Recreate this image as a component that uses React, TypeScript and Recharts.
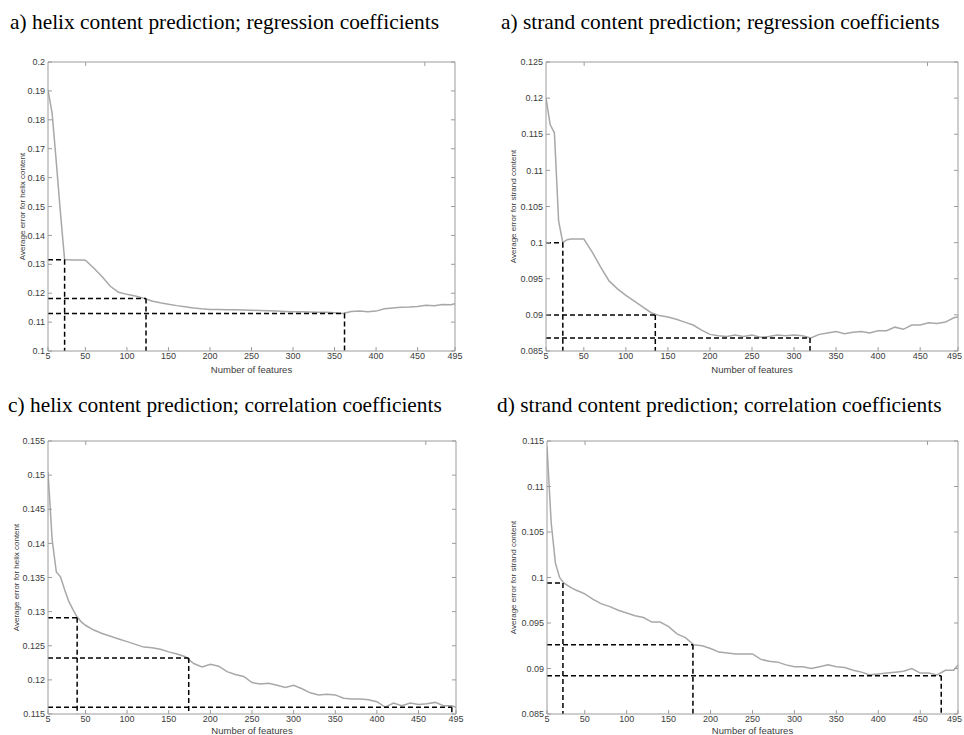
import { LineChart, Line, XAxis, YAxis, ReferenceLine } from 'recharts'

// number of features (x) shared by all four panels
const featureCounts = [
  5, 10, 15, 20, 25, 30, 35, 40, 45, 50, 60, 70, 80, 90, 100, 110, 120, 130, 140, 150, 160, 170,
  180, 190, 200, 210, 220, 230, 240, 250, 260, 270, 280, 290, 300, 310, 320, 330, 340, 350, 360,
  370, 380, 390, 400, 410, 420, 430, 440, 450, 460, 470, 480, 490, 495,
]
const xTicks = [5, 50, 100, 150, 200, 250, 300, 350, 400, 450, 495]

const helixRegression = [
  0.1903, 0.1822, 0.1653, 0.1478, 0.1316, 0.1316, 0.1315, 0.1315, 0.1315, 0.1314,
  0.1287, 0.1258, 0.1224, 0.1203, 0.1196, 0.119, 0.1183, 0.1173, 0.1167, 0.1162,
  0.1157, 0.1153, 0.1149, 0.1146, 0.1144, 0.1144, 0.1143, 0.1143, 0.1142, 0.1141,
  0.114, 0.1139, 0.1138, 0.1137, 0.1136, 0.1136, 0.1135, 0.1134, 0.1134, 0.1132,
  0.113, 0.1137, 0.1138, 0.1136, 0.1138, 0.1146, 0.1149, 0.1151, 0.1152, 0.1154,
  0.1158, 0.1157, 0.1161, 0.116, 0.1164,
]
const strandRegression = [
  0.12, 0.1163, 0.1152, 0.103, 0.1, 0.1004, 0.1005, 0.1005, 0.1005, 0.1005,
  0.0987, 0.0966, 0.0947, 0.0936, 0.0927, 0.0919, 0.0911, 0.0903, 0.0899, 0.0897,
  0.0894, 0.089, 0.0886, 0.0879, 0.0873, 0.0871, 0.087, 0.0872, 0.087, 0.0872,
  0.0869, 0.087, 0.0872, 0.0871, 0.0872, 0.0871, 0.0868, 0.0873, 0.0875, 0.0877,
  0.0874, 0.0876, 0.0877, 0.0875, 0.0878, 0.0878, 0.0883, 0.088, 0.0886, 0.0886,
  0.0889, 0.0888, 0.089, 0.0896, 0.0897,
]
const helixCorrelation = [
  0.1505, 0.1405, 0.1358, 0.1351, 0.1332, 0.1315, 0.1303, 0.1292, 0.1285, 0.128,
  0.1273, 0.1268, 0.1264, 0.126, 0.1256, 0.1252, 0.1248, 0.1247, 0.1245, 0.1241,
  0.1238, 0.1234, 0.1224, 0.1219, 0.1223, 0.122, 0.1212, 0.1208, 0.1205, 0.1196,
  0.1194, 0.1195, 0.1192, 0.1189, 0.1192, 0.1187, 0.1181, 0.1178, 0.1179, 0.1178,
  0.1173, 0.1172, 0.1172, 0.1171, 0.1168, 0.116, 0.1166, 0.1162, 0.1166, 0.1164,
  0.1165, 0.1167, 0.1162, 0.1162, 0.116,
]
const strandCorrelation = [
  0.1144, 0.106, 0.1016, 0.1, 0.0994, 0.0991, 0.0988, 0.0986, 0.0984, 0.0982,
  0.0976, 0.0971, 0.0968, 0.0964, 0.0961, 0.0958, 0.0956, 0.0951, 0.0951, 0.0946,
  0.0938, 0.0934, 0.0926, 0.0925, 0.0922, 0.0918, 0.0917, 0.0916, 0.0916, 0.0916,
  0.091, 0.0908, 0.0907, 0.0904, 0.0902, 0.0902, 0.09, 0.0902, 0.0904, 0.0902,
  0.0901, 0.0898, 0.0896, 0.0893, 0.0894, 0.0895, 0.0896, 0.0897, 0.09, 0.0895,
  0.0895, 0.0893, 0.0898, 0.0898, 0.0904,
]

// y ticks per panel
const helixRegTicks = [0.1, 0.11, 0.12, 0.13, 0.14, 0.15, 0.16, 0.17, 0.18, 0.19, 0.2]
const strandRegTicks = [0.085, 0.09, 0.095, 0.1, 0.105, 0.11, 0.115, 0.12, 0.125]
const helixCorTicks = [0.115, 0.12, 0.125, 0.13, 0.135, 0.14, 0.145, 0.15, 0.155]
const strandCorTicks = [0.085, 0.09, 0.095, 0.1, 0.105, 0.11, 0.115]

// dashed cut-off markers: [features, error]
const helixRegCuts: [number, number][] = [[25, 0.1316], [123, 0.1182], [362, 0.113]]
const strandRegCuts: [number, number][] = [[25, 0.1], [135, 0.09], [319, 0.0868]]
const helixCorCuts: [number, number][] = [[40, 0.1291], [174, 0.1232], [490, 0.116]]
const strandCorCuts: [number, number][] = [[24, 0.0994], [179, 0.0926], [475, 0.0892]]

const FRAME = '#9c9c9c'
const TXT = '#3c3c3c'
const SANS = '"Liberation Sans", Arial, sans-serif'
const fmt = (v: number) => String(Number(v.toFixed(3)))

const BottomTick = ({ x, y, payload, tight }: any) => {
  // right-hand panels touch the page edge: pull the last label inside
  const atEdge = tight && payload.value === xTicks[xTicks.length - 1]
  return (
    <g>
      <line x1={x} x2={x} y1={y} y2={y - 4} stroke={FRAME} />
      <text
        x={atEdge ? x + 4 : x}
        y={y + 1}
        dy="0.75em"
        textAnchor={atEdge ? 'end' : 'middle'}
        fontSize={9}
        fill={TXT}
        fontFamily={SANS}
      >
        {payload.value}
      </text>
    </g>
  )
}
const TopTick = ({ x, y }: any) => <line x1={x} x2={x} y1={y} y2={y + 4} stroke={FRAME} />
const LeftTick = ({ x, y, payload }: any) => (
  <g>
    <line x1={x} x2={x + 4} y1={y} y2={y} stroke={FRAME} />
    <text x={x - 3} y={y} dy="0.35em" textAnchor="end" fontSize={9} fill={TXT} fontFamily={SANS}>
      {fmt(payload.value)}
    </text>
  </g>
)
const RightTick = ({ x, y }: any) => <line x1={x} x2={x - 4} y1={y} y2={y} stroke={FRAME} />

interface PanelProps {
  title: string
  yLabel: string
  values: number[]
  domain: [number, number]
  ticks: number[]
  cuts: [number, number][]
  plot: [number, number, number, number]
  gap: number
  xLabelH: number
  titlePos: [number, number]
  tight?: boolean
}

function Panel({ title, yLabel, values, domain, ticks, cuts, plot, gap, xLabelH, titlePos, tight }: PanelProps) {
  const [L, T, R, B] = plot
  const left = L - 4 - 2 * gap
  const top = T - 11
  const width = R + 11 - left
  const height = B + xLabelH + 2 - top
  const data = featureCounts.map((n, i) => ({ n, v: values[i] }))
  const dash = { stroke: '#000', strokeDasharray: '5 3', strokeWidth: 1.5, ifOverflow: 'visible' as const }

  return (
    <>
      <div
        style={{
          position: 'absolute',
          left: titlePos[0],
          top: titlePos[1],
          fontFamily: '"Liberation Serif", "Times New Roman", serif',
          fontSize: 21.4,
          lineHeight: '21px',
          whiteSpace: 'nowrap',
          color: '#000',
        }}
      >
        {title}
      </div>
      <div style={{ position: 'absolute', left, top }}>
        <LineChart width={width} height={height} data={data} margin={{ top: 10, right: 10, bottom: 2, left: 4 }}>
          <XAxis
            dataKey="n"
            type="number"
            domain={[5, 495]}
            ticks={xTicks}
            interval={0}
            allowDataOverflow
            height={xLabelH}
            tickSize={0}
            tickMargin={0}
            stroke={FRAME}
            tick={(p: any) => <BottomTick {...p} tight={tight} />}
            label={{ value: 'Number of features', position: 'insideBottom', offset: 0, fontSize: 9.5, fill: TXT, fontFamily: SANS }}
          />
          <XAxis
            xAxisId="t"
            orientation="top"
            type="number"
            domain={[5, 495]}
            ticks={xTicks}
            interval={0}
            allowDataOverflow
            height={1}
            tickSize={0}
            tickMargin={0}
            stroke={FRAME}
            tick={TopTick}
          />
          <YAxis
            type="number"
            domain={domain}
            ticks={ticks}
            interval={0}
            allowDataOverflow
            width={2 * gap}
            tickSize={0}
            tickMargin={0}
            stroke={FRAME}
            tick={LeftTick}
            label={{ value: yLabel, angle: -90, position: 'center', fontSize: 8, fill: TXT, fontFamily: SANS }}
          />
          <YAxis
            yAxisId="r"
            orientation="right"
            type="number"
            domain={domain}
            ticks={ticks}
            interval={0}
            allowDataOverflow
            width={1}
            tickSize={0}
            tickMargin={0}
            stroke={FRAME}
            tick={RightTick}
          />
          <Line type="linear" dataKey="v" stroke="#a8a8a8" strokeWidth={1.5} dot={false} isAnimationActive={false} />
          {cuts.map(([cx, cy], i) => (
            <ReferenceLine key={'h' + i} segment={[{ x: 5, y: cy }, { x: cx, y: cy }]} {...dash} />
          ))}
          {cuts.map(([cx, cy], i) => (
            <ReferenceLine key={'v' + i} segment={[{ x: cx, y: cy }, { x: cx, y: domain[0] }]} {...dash} />
          ))}
        </LineChart>
      </div>
    </>
  )
}

export default function App() {
  return (
    <div style={{ position: 'absolute', left: 0, top: 0, width: 964, height: 735, overflow: 'hidden', background: '#fff' }}>
      <Panel
        title="a) helix content prediction; regression coefficients"
        yLabel="Average error for helix content"
        values={helixRegression}
        domain={[0.1, 0.2]}
        ticks={helixRegTicks}
        cuts={helixRegCuts}
        plot={[48, 62, 455, 351]}
        gap={26}
        xLabelH={22}
        titlePos={[10, 12]}
      />
      <Panel
        title="a) strand content prediction; regression coefficients"
        yLabel="Average error for strand content"
        values={strandRegression}
        domain={[0.085, 0.125]}
        ticks={strandRegTicks}
        cuts={strandRegCuts}
        plot={[546, 62, 958, 351]}
        gap={33}
        xLabelH={22}
        titlePos={[501, 12]}
        tight
      />
      <Panel
        title="c) helix content prediction; correlation coefficients"
        yLabel="Average error for helix content"
        values={helixCorrelation}
        domain={[0.115, 0.155]}
        ticks={helixCorTicks}
        cuts={helixCorCuts}
        plot={[48, 441, 456, 714]}
        gap={32}
        xLabelH={20}
        titlePos={[8, 395]}
      />
      <Panel
        title="d) strand content prediction; correlation coefficients"
        yLabel="Average error for strand content"
        values={strandCorrelation}
        domain={[0.085, 0.115]}
        ticks={strandCorTicks}
        cuts={strandCorCuts}
        plot={[547, 441, 958, 714]}
        gap={34}
        xLabelH={20}
        titlePos={[497, 395]}
        tight
      />
    </div>
  )
}
